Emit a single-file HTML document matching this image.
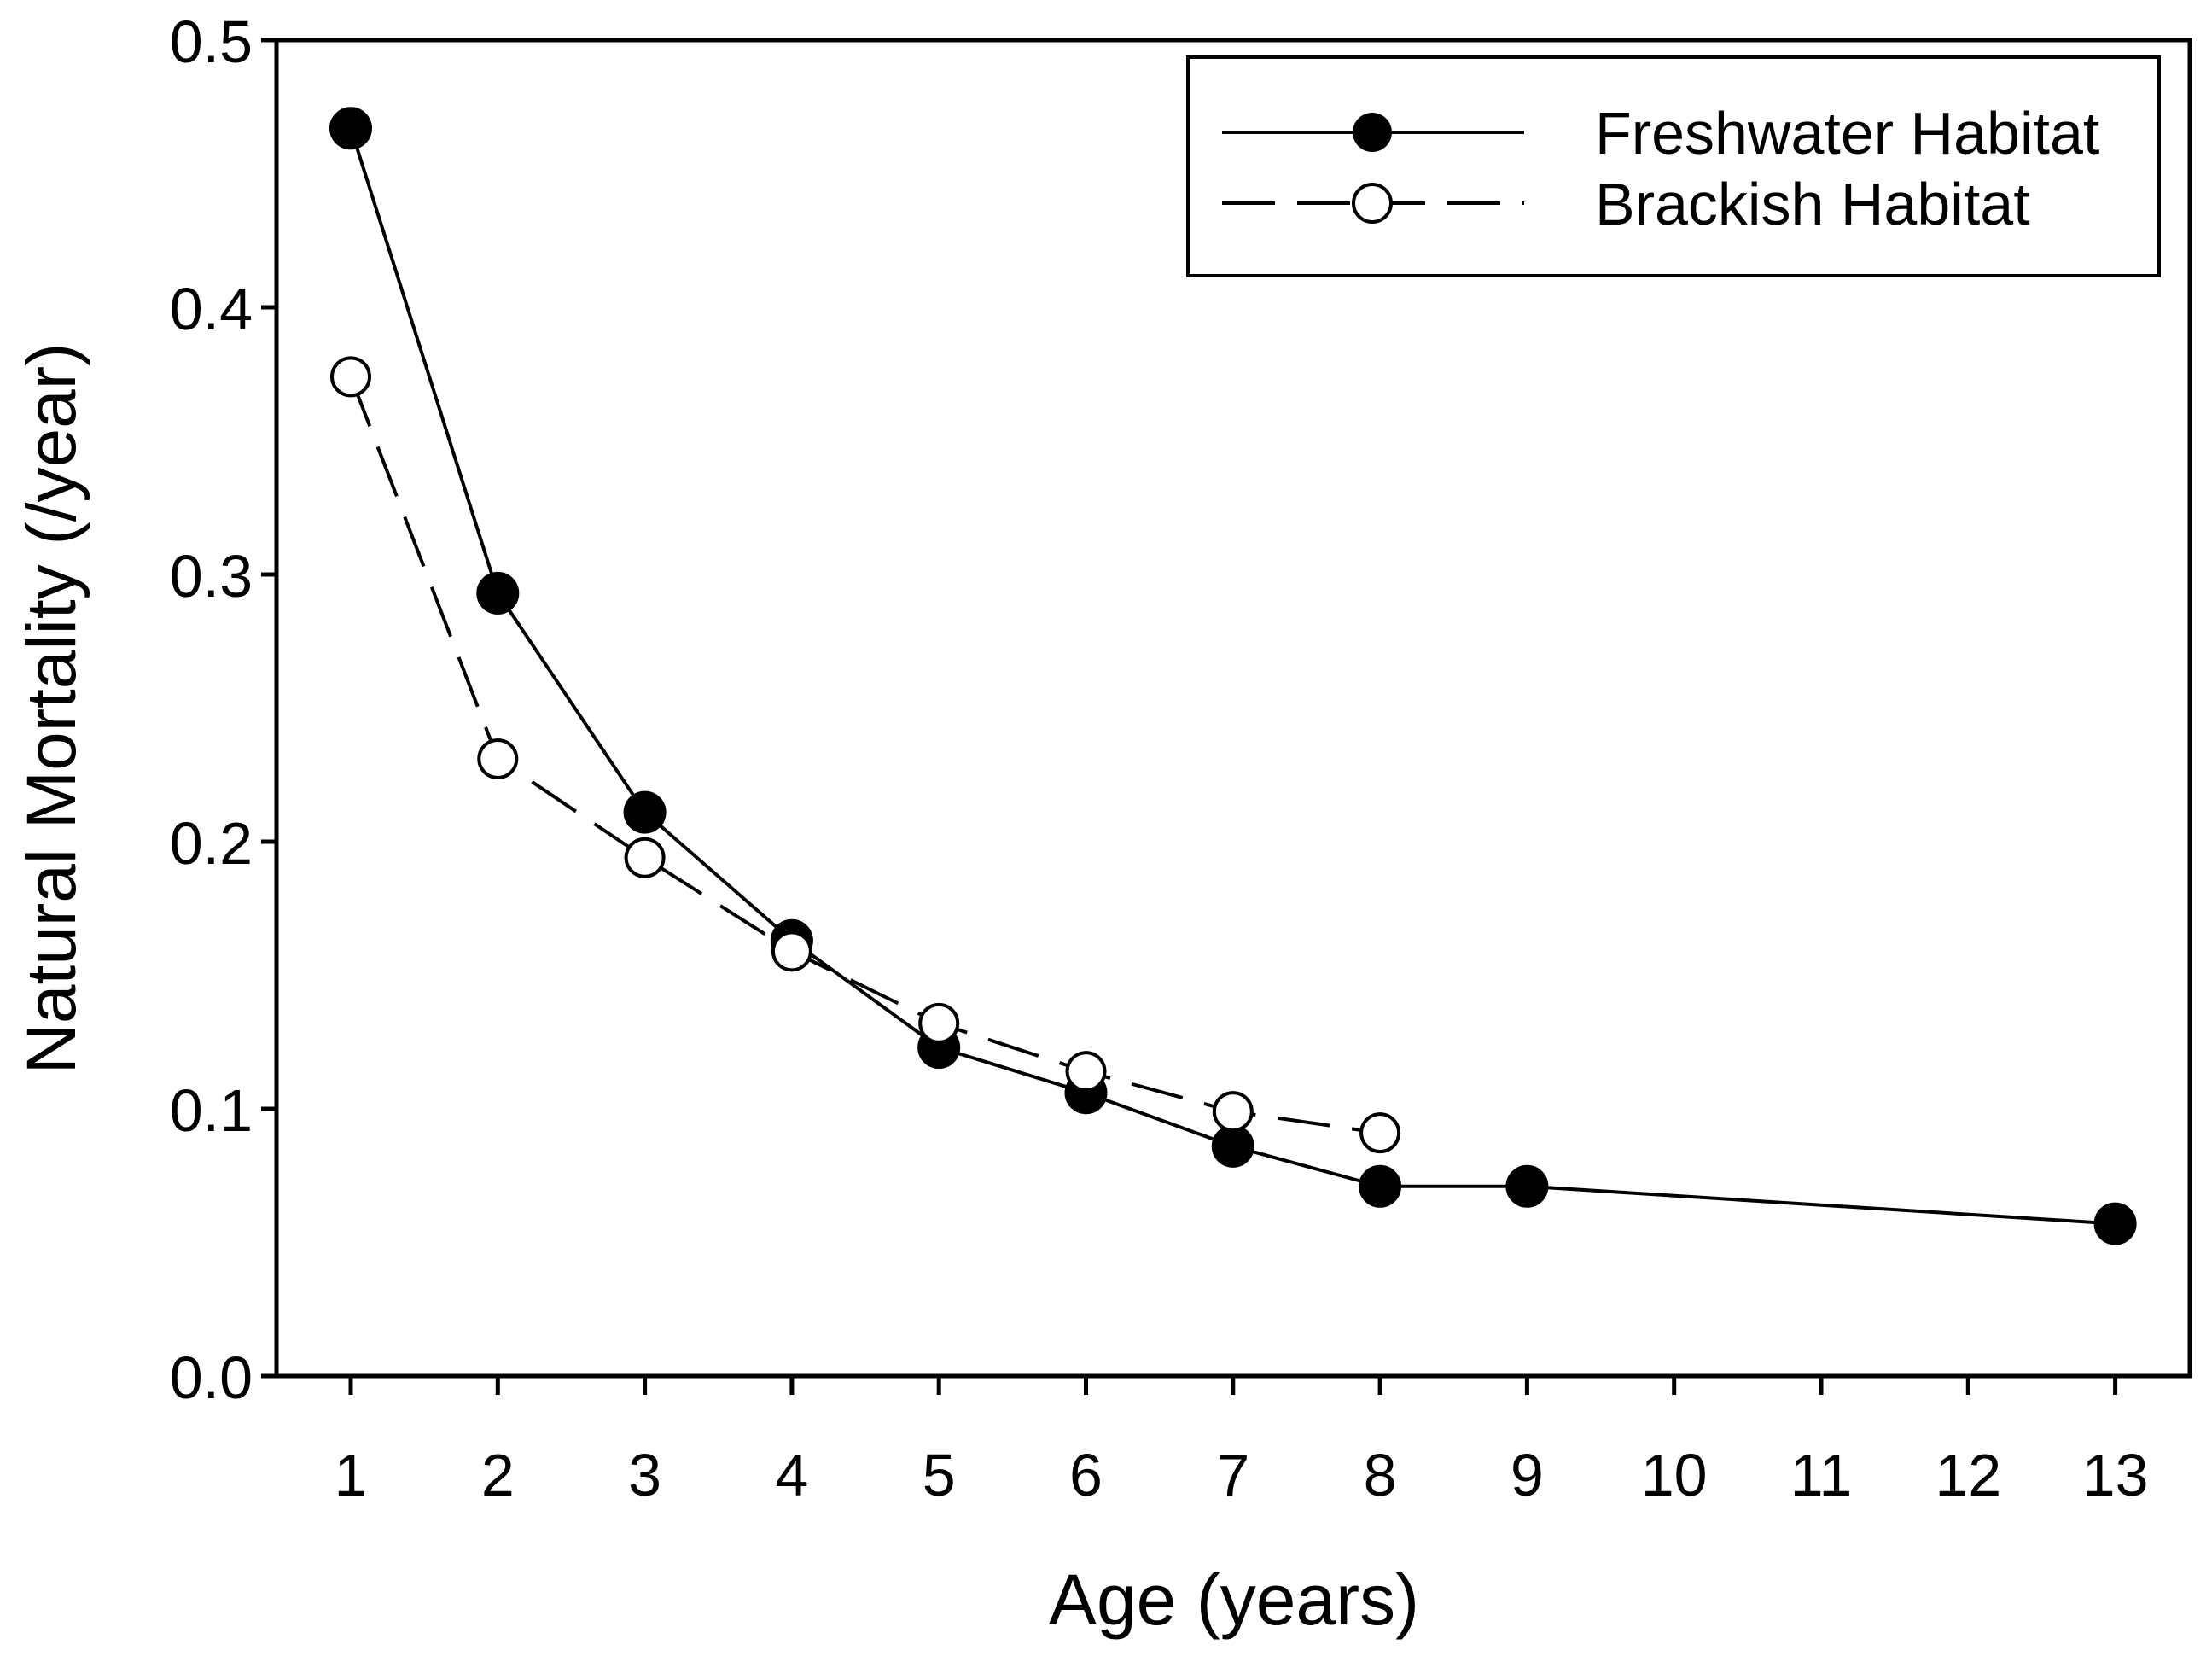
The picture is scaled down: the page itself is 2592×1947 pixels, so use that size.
<!DOCTYPE html>
<html><head><meta charset="utf-8"><style>html,body{margin:0;padding:0;background:#fff}svg{display:block}text{font-family:"Liberation Sans",Arial,sans-serif;fill:#000}</style></head>
<body>
<svg id="chart" width="2592" height="1947" viewBox="0 0 2592 1947" xmlns="http://www.w3.org/2000/svg">
<g id="axes"></g>
<g id="series"></g>
<text x="1446" y="1903" font-size="84" text-anchor="middle">Age (years)</text>
<text transform="translate(88,830) rotate(-90)" font-size="82" text-anchor="middle">Natural Mortality (/year)</text>
<g>
<rect x="1392" y="67" width="1138" height="256" fill="#fff" stroke="#000" stroke-width="4"/>
<g>
<line x1="1432" y1="155" x2="1786" y2="155" stroke="#000" stroke-width="4"/>
<circle cx="1608" cy="155" r="23" fill="#000"/>
<text x="1869" y="180" font-size="70">Freshwater Habitat</text></g>
<g>
<line x1="1432" y1="238" x2="1786" y2="238" stroke="#000" stroke-width="4" stroke-dasharray="62,26"/>
<circle cx="1608" cy="238" r="22" fill="#fff" stroke="#000" stroke-width="4"/>
<text x="1869" y="263" font-size="70">Brackish Habitat</text></g>
</g>
</svg>
<script>
const categories = ['1','2','3','4','5','6','7','8','9','10','11','12','13'];
const yTicks = [0.0,0.1,0.2,0.3,0.4,0.5];
const yTickLabels = ['0.0','0.1','0.2','0.3','0.4','0.5'];
const freshAges = ['1','2','3','4','5','6','7','8','9','13'];
const freshValues = [0.467,0.293,0.211,0.163,0.123,0.106,0.086,0.071,0.071,0.057];
const brackAges = ['1','2','3','4','5','6','7','8'];
const brackValues = [0.374,0.231,0.194,0.159,0.132,0.114,0.099,0.091];

const NS='http://www.w3.org/2000/svg';
const L=324,R=2566,T=47,B=1612;
function xPos(c){return 411+categories.indexOf(c)*172.3;}
function yPos(v){return B-(v-0)/(0.5-0)*(B-T);}
function mk(tag,attrs,parent){const e=document.createElementNS(NS,tag);for(const k in attrs)e.setAttribute(k,attrs[k]);parent.appendChild(e);return e;}
const axes=document.getElementById('axes');
const frame=mk('rect',{x:L,y:T,width:R-L,height:B-T,fill:'none',stroke:'#000','stroke-width':5},axes);


yTicks.forEach((v,i)=>{
  const t=mk('line',{x1:L-18,x2:L,y1:yPos(v),y2:yPos(v),stroke:'#000','stroke-width':5},axes);
  
  
  const lb=mk('text',{x:L-28,y:yPos(v)+26,'font-size':70,'text-anchor':'end'},axes);
  lb.textContent=yTickLabels[i];
  
  
});
categories.forEach(c=>{
  const t=mk('line',{x1:xPos(c),x2:xPos(c),y1:B,y2:B+22,stroke:'#000','stroke-width':5},axes);
  
  
  const lb=mk('text',{x:xPos(c),y:1752,'font-size':70,'text-anchor':'middle'},axes);
  lb.textContent=c;
  
  
});
const sg=document.getElementById('series');
function drawSeries(ages,vals,filled,name){
  const pts=ages.map((a,i)=>xPos(a)+','+yPos(vals[i])).join(' ');
  const pl=mk('polyline',{points:pts,fill:'none',stroke:'#000','stroke-width':4,'stroke-dasharray':filled?'none':'62,26'},sg);
  
  
  ages.forEach((a,i)=>{
    const c=mk('circle',{cx:xPos(a),cy:yPos(vals[i]),r:filled?23:22,fill:filled?'#000':'#fff',stroke:'#000','stroke-width':4},sg);
    
    
  });
}
drawSeries(freshAges,freshValues,true,'freshwater');
drawSeries(brackAges,brackValues,false,'brackish');
</script>
</body></html>
